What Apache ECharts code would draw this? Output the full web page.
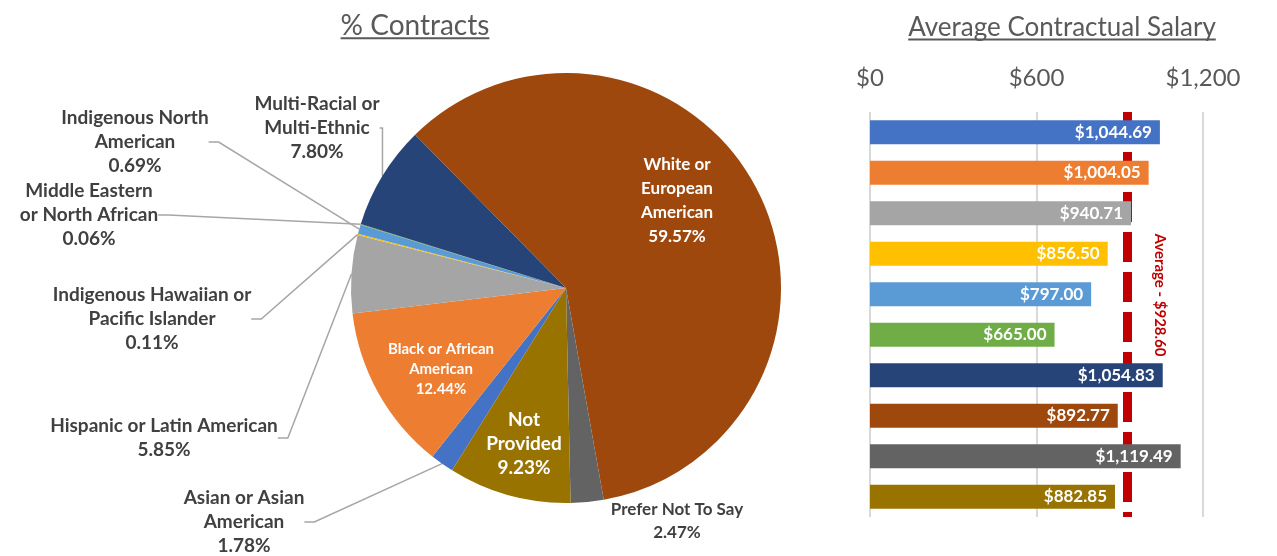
<!DOCTYPE html>
<html><head><meta charset="utf-8">
<script src="https://cdn.jsdelivr.net/npm/echarts@6/dist/echarts.min.js"></script>
<style>html,body{margin:0;padding:0;background:#fff}#c{width:1277px;height:556px}</style>
</head><body><div id="c"></div>
<script>
// ---- data ----
const categories = ['Asian or Asian American','Black or African American','Hispanic or Latin American','Indigenous Hawaiian or Pacific Islander','Indigenous North American','Middle Eastern or North African','Multi-Racial or Multi-Ethnic','White or European American','Prefer Not To Say','Not Provided'];
const pieLabelNames = ['Asian or Asian\nAmerican','Black or African\nAmerican','Hispanic or Latin American','Indigenous Hawaiian or\nPacific Islander','Indigenous North\nAmerican','Middle Eastern\nor North African','Multi-Racial or\nMulti-Ethnic','White or\nEuropean\nAmerican','Prefer Not To Say','Not\nProvided'];
const contractPct = [1.78, 12.44, 5.85, 0.11, 0.69, 0.06, 7.80, 59.57, 2.47, 9.23];
const avgSalary = [1044.69, 1004.05, 940.71, 856.50, 797.00, 665.00, 1054.83, 892.77, 1119.49, 882.85];
const overallAvg = 928.60;
const salaryTicks = [0, 600, 1200];
const titles = ['% Contracts', 'Average Contractual Salary'];

// ---- styles ----
const colors = ['#4472C4','#ED7D31','#A5A5A5','#FFC000','#5B9BD5','#70AD47','#264478','#9E480E','#636363','#997300'];
const FONT = 'Lato';
const WEIGHT = 'bold';
const insideIdx = [1, 7, 9];
const labelFont = [19,15,19,19,19,19,19,17,17,19];
const labelLH = [24,20,24,24,24,24,24,24,23,24];
// label anchor positions (layout only)
const labelPos = [[244,522],[441,369],[164,438],[152,319],[135,142],[89,215],[317,128],[677,201],[677,521],[524,444]];

const money = v => '$' + v.toLocaleString('en-US', {minimumFractionDigits: 2, maximumFractionDigits: 2});

const pieData = categories.map((c, i) => {
  const inside = insideIdx.includes(i);
  return {
    name: c, value: contractPct[i],
    itemStyle: {color: colors[i]},
    label: {
      position: inside ? 'inside' : 'outside',
      color: inside ? '#ffffff' : '#404040',
      fontSize: labelFont[i],
      lineHeight: labelLH[i]
    },
    labelLine: {show: !inside && i !== 8}
  };
});

const chart = echarts.init(document.getElementById('c'));
chart.setOption({
  animation: false,
  backgroundColor: '#ffffff',
  textStyle: {fontFamily: FONT},
  grid: {left: 870, right: 74, top: 112, bottom: 39},
  xAxis: {
    type: 'value', position: 'top', min: salaryTicks[0], max: salaryTicks[salaryTicks.length - 1],
    interval: salaryTicks[1] - salaryTicks[0],
    axisLine: {show: false}, axisTick: {show: false},
    axisLabel: {fontFamily: FONT, fontSize: 24, color: '#595959', margin: 22,
      formatter: v => '$' + v.toLocaleString('en-US')},
    splitLine: {lineStyle: {color: '#D9D9D9', width: 2}}
  },
  yAxis: {type: 'category', data: categories, inverse: true, show: false},
  series: [
    {
      type: 'line', data: [], z: 1, silent: true,
      markLine: {
        z: 1, silent: true, symbol: ['none', 'none'], label: {show: false},
        lineStyle: {color: '#C00000', width: 9, type: [30, 10], opacity: 1},
        data: [{xAxis: overallAvg}]
      }
    },
    {
      type: 'bar', z: 3, barWidth: 24,
      data: avgSalary.map((v, i) => ({value: v, itemStyle: {color: colors[i]}})),
      label: {show: true, position: 'insideRight', distance: 8, color: '#ffffff',
        fontFamily: FONT, fontWeight: WEIGHT, fontSize: 17, formatter: p => money(p.value)}
    },
    {
      type: 'pie', center: [566, 288], radius: 215, startAngle: 238, clockwise: true,
      avoidLabelOverlap: false,
      data: pieData,
      label: {show: true, fontFamily: FONT, fontWeight: WEIGHT, align: 'center',
        formatter: p => pieLabelNames[p.dataIndex] + '\n' + p.value.toFixed(2) + '%'},
      labelLine: {lineStyle: {color: '#A6A6A6', width: 1.5}, length: 20, length2: 10},
      labelLayout: p => ({x: labelPos[p.dataIndex][0], y: labelPos[p.dataIndex][1], align: 'center', verticalAlign: 'middle'}),
      itemStyle: {borderWidth: 0}
    }
  ]
});

// titles with underline + average label
const ctx = document.createElement('canvas').getContext('2d');
function titleGroup(text, cx, cy, size) {
  ctx.font = size + 'px ' + FONT;
  const w = ctx.measureText(text).width;
  return [
    {type: 'text', x: cx, y: cy, style: {text: text, fill: '#595959', font: size + 'px ' + FONT, align: 'center', verticalAlign: 'middle'}},
    {type: 'line', shape: {x1: cx - w / 2, y1: cy + size * 0.44, x2: cx + w / 2, y2: cy + size * 0.44}, style: {stroke: '#595959', lineWidth: 2}}
  ];
}
const avgX = chart.convertToPixel({xAxisIndex: 0}, overallAvg);
chart.setOption({
  graphic: [
    ...titleGroup(titles[0], 415, 26, 28),
    ...titleGroup(titles[1], 1062, 28, 26),
    {type: 'text', x: avgX + 32, y: 295, rotation: -Math.PI / 2,
      style: {text: 'Average - ' + money(overallAvg), fill: '#C00000', font: WEIGHT + ' 15px ' + FONT, align: 'center', verticalAlign: 'middle'}}
  ]
});
</script>
</body></html>
